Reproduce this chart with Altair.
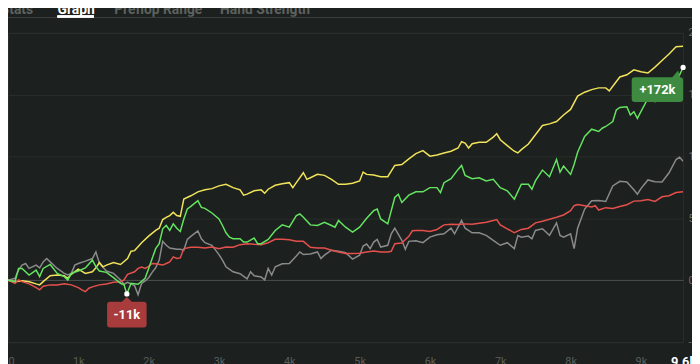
import altair as alt
import pandas as pd

# x: hands played (thousands), y: net won (thousands)
YELLOW_X = [0, 0.1, 0.2, 0.3, 0.4, 0.45, 0.5, 0.6, 0.7, 0.8, 0.85, 0.9, 1.0, 1.1, 1.2, 1.25, 1.3, 1.35, 1.4, 1.5, 1.6, 1.7, 1.75, 1.8, 1.9, 2.0, 2.1, 2.15, 2.2, 2.25, 2.3, 2.35, 2.4, 2.45, 2.5, 2.6, 2.7, 2.8, 2.9, 3.0, 3.1, 3.2, 3.3, 3.35, 3.4, 3.5, 3.6, 3.65, 3.7, 3.8, 3.9, 4.0, 4.05, 4.1, 4.2, 4.25, 4.3, 4.4, 4.5, 4.6, 4.7, 4.8, 4.9, 5.0, 5.05, 5.1, 5.2, 5.3, 5.4, 5.5, 5.6, 5.7, 5.8, 5.9, 6.0, 6.1, 6.2, 6.3, 6.4, 6.45, 6.5, 6.55, 6.6, 6.7, 6.8, 6.9, 6.95, 7.0, 7.1, 7.2, 7.25, 7.3, 7.4, 7.5, 7.6, 7.7, 7.8, 7.9, 8.0, 8.1, 8.2, 8.3, 8.4, 8.5, 8.55, 8.6, 8.7, 8.8, 8.9, 9.0, 9.1, 9.2, 9.3, 9.4, 9.5, 9.6]
YELLOW_Y = [0, -1.1, -0.3, -1.1, -2.9, -3.7, -1.1, 3.7, 4.3, 3.7, 1.6, 4.8, 9.1, 5.6, 6.9, 10.1, 14.4, 10.9, 12.3, 14.4, 12.8, 17.6, 23.5, 24, 30.4, 35.7, 40.3, 42.1, 49.1, 50.9, 52.3, 54.9, 52.3, 51.7, 65.6, 68.3, 71.5, 73.1, 74.1, 76.3, 77.6, 74.9, 73.1, 68.8, 69.6, 72.3, 73.1, 70.4, 73.6, 76.8, 78.1, 78.9, 74.9, 78.9, 86.9, 81.6, 82.9, 85.6, 84.8, 81.6, 77.6, 77.6, 78.4, 80.3, 87.5, 85.6, 85.1, 83.7, 83.7, 92.8, 93.6, 98.1, 102.4, 104.8, 100.3, 101.3, 102.9, 104.3, 106.9, 112, 110.9, 106.9, 110.4, 111.5, 111.5, 115.7, 118.4, 113.6, 108.8, 104.3, 102.9, 105.6, 110.1, 117.6, 125.1, 126.4, 128.3, 133.6, 138.1, 148.8, 152, 154.1, 155.5, 155.5, 153.1, 156.8, 164.3, 166.1, 170.1, 168.5, 167.5, 172.3, 177.6, 182.9, 188.8, 189.1]

GREEN_X = [0, 0.1, 0.15, 0.2, 0.3, 0.4, 0.45, 0.5, 0.6, 0.7, 0.8, 0.85, 0.9, 1.0, 1.1, 1.2, 1.25, 1.3, 1.4, 1.5, 1.6, 1.65, 1.69, 1.75, 1.85, 1.95, 2.0, 2.05, 2.1, 2.15, 2.2, 2.25, 2.3, 2.35, 2.4, 2.45, 2.5, 2.55, 2.6, 2.7, 2.75, 2.8, 2.9, 3.0, 3.05, 3.1, 3.15, 3.2, 3.3, 3.35, 3.4, 3.5, 3.55, 3.6, 3.7, 3.8, 3.9, 4.0, 4.1, 4.15, 4.2, 4.3, 4.4, 4.5, 4.6, 4.65, 4.7, 4.8, 4.9, 5.0, 5.1, 5.2, 5.25, 5.3, 5.4, 5.5, 5.55, 5.6, 5.7, 5.8, 5.9, 6.0, 6.1, 6.15, 6.2, 6.3, 6.4, 6.45, 6.5, 6.6, 6.7, 6.8, 6.9, 7.0, 7.1, 7.2, 7.3, 7.4, 7.45, 7.5, 7.6, 7.7, 7.8, 7.85, 7.9, 8.0, 8.05, 8.1, 8.2, 8.3, 8.4, 8.45, 8.5, 8.6, 8.65, 8.7, 8.8, 8.85, 8.9, 8.95, 9.0, 9.1, 9.2, 9.3, 9.4, 9.5, 9.55, 9.6]
GREEN_Y = [0, -1, 9.6, 9.6, 4.3, 8.3, 3, 9.6, 12.8, 5.6, 3, 0.3, 5.6, 7.5, 10, 16.3, 11, 7.5, 6.4, 2.1, -2.4, -3.7, -11, -2.4, -3.2, 1.6, 9.6, 17.6, 25.6, 29.6, 41.6, 44.3, 40.3, 45.6, 42.1, 39.5, 49.6, 57.6, 59.7, 64.3, 58.9, 58.1, 54.4, 49.6, 44.3, 38.4, 34.9, 33.6, 33.6, 30.9, 30.9, 34.1, 29.6, 29.6, 33.1, 40.3, 44.8, 42.9, 52.3, 53.6, 50.9, 44.8, 44.3, 46.9, 44.3, 42.9, 48.3, 42.9, 38.9, 42.9, 50.1, 56.3, 57.6, 49.6, 45.6, 66.9, 69.6, 62.9, 68.8, 71.5, 71.5, 74.9, 74.9, 70.9, 78.9, 82.1, 89.6, 92.8, 84.8, 82.1, 82.9, 80.3, 81.6, 74.9, 72.3, 65.6, 77.6, 77.6, 73.6, 80.3, 89.1, 83.7, 97.6, 87.5, 92.3, 85.6, 93.6, 103.5, 116.3, 122.1, 120.3, 122.9, 124.3, 128.3, 137.6, 139.7, 140.3, 133.6, 136.3, 130.9, 136.3, 147, 144.3, 148, 155, 160, 166, 172]

GRAY_X = [0, 0.1, 0.15, 0.2, 0.25, 0.3, 0.4, 0.45, 0.5, 0.55, 0.6, 0.7, 0.8, 0.85, 0.9, 0.95, 1.0, 1.1, 1.2, 1.25, 1.3, 1.4, 1.5, 1.6, 1.65, 1.7, 1.8, 1.85, 1.9, 1.95, 2.0, 2.05, 2.1, 2.15, 2.2, 2.25, 2.3, 2.4, 2.45, 2.5, 2.55, 2.6, 2.7, 2.75, 2.8, 2.9, 3.0, 3.05, 3.1, 3.2, 3.3, 3.4, 3.45, 3.5, 3.6, 3.65, 3.7, 3.75, 3.8, 3.9, 4.0, 4.1, 4.15, 4.2, 4.3, 4.4, 4.45, 4.5, 4.6, 4.7, 4.8, 4.9, 5.0, 5.05, 5.1, 5.15, 5.2, 5.25, 5.3, 5.4, 5.45, 5.5, 5.6, 5.65, 5.7, 5.8, 5.9, 6.0, 6.1, 6.2, 6.3, 6.35, 6.4, 6.45, 6.5, 6.6, 6.7, 6.8, 6.9, 7.0, 7.1, 7.2, 7.25, 7.3, 7.4, 7.45, 7.5, 7.6, 7.7, 7.8, 7.85, 7.9, 8.0, 8.05, 8.1, 8.2, 8.3, 8.4, 8.5, 8.6, 8.7, 8.8, 8.9, 8.95, 9.0, 9.1, 9.2, 9.3, 9.4, 9.5, 9.55, 9.6]
GRAY_Y = [0, 1.6, 8.3, 12.3, 13.6, 9.6, 12.3, 10.1, 14.9, 17.6, 14.9, 9.6, 5.6, 4.3, 5.6, 12.3, 13.6, 15.5, 17.6, 22.9, 13.6, 7.5, 5.6, 0.3, -3.2, -1.6, -4.3, -11.7, -2.4, -0.5, 2.1, 6.4, 10.1, 16.3, 31.5, 28.3, 26.1, 25.1, 25.1, 24.3, 33.1, 35.5, 40, 33.6, 30.4, 28.3, 20.8, 16.3, 10.9, 6.9, 5.3, 1.1, 6.9, 3.7, 2.7, 0.3, 9.6, 4.3, 10.9, 13.3, 13.6, 19.7, 22.9, 20.8, 21.3, 22.9, 17.6, 20.3, 24.3, 23.5, 22.4, 17.1, 20.3, 27.7, 29.3, 25.6, 30.9, 33.1, 26.9, 28.3, 37.6, 42.1, 32.3, 25.1, 31.5, 32, 30.4, 34.9, 36.8, 37.6, 42.1, 37.6, 42.9, 48.3, 42.1, 38.4, 38.4, 36.3, 32.3, 28.3, 30.4, 25.6, 36.2, 34.9, 35.7, 33.6, 40.3, 41.6, 36.3, 46.4, 36.3, 34.9, 37.6, 25.6, 42.1, 57.6, 64.3, 64.5, 63.7, 76.3, 80, 79.5, 73.1, 69.6, 74.1, 81.1, 79.7, 79.5, 86.9, 97.6, 99.5, 96.3]

RED_X = [0, 0.1, 0.15, 0.2, 0.3, 0.4, 0.45, 0.5, 0.6, 0.7, 0.8, 0.9, 1.0, 1.05, 1.1, 1.15, 1.2, 1.3, 1.4, 1.5, 1.6, 1.65, 1.7, 1.8, 1.85, 1.9, 1.95, 2.0, 2.05, 2.1, 2.2, 2.25, 2.3, 2.35, 2.4, 2.45, 2.5, 2.6, 2.7, 2.8, 2.9, 3.0, 3.1, 3.2, 3.3, 3.4, 3.5, 3.6, 3.7, 3.8, 3.9, 4.0, 4.1, 4.2, 4.3, 4.4, 4.5, 4.6, 4.7, 4.8, 4.9, 5.0, 5.1, 5.2, 5.3, 5.4, 5.45, 5.5, 5.6, 5.7, 5.75, 5.8, 5.9, 6.0, 6.1, 6.2, 6.3, 6.4, 6.5, 6.6, 6.7, 6.8, 6.9, 6.95, 7.0, 7.1, 7.2, 7.3, 7.4, 7.5, 7.6, 7.7, 7.8, 7.9, 8.0, 8.05, 8.1, 8.2, 8.3, 8.35, 8.4, 8.5, 8.6, 8.7, 8.8, 8.9, 9.0, 9.1, 9.2, 9.3, 9.4, 9.5, 9.6]
RED_Y = [0, -2.4, 0.3, -1.1, -2.9, -5.9, -7.7, -4.8, -3.7, -3.7, -2.7, -3.7, -5.9, -7.7, -9.1, -6.4, -5.3, -3.7, -2.9, -1.6, -1.1, 0.3, 4.8, 6.9, 9.6, 10.7, 9.6, 11.2, 13.6, 13.3, 12.3, 13.6, 14.9, 18.9, 17.6, 18.1, 25.6, 26.7, 26.7, 26.1, 26.9, 25.6, 26.9, 26.7, 28.8, 29.6, 29.1, 28.8, 30.4, 33.1, 33.1, 32.8, 31.5, 31.5, 26.7, 26.1, 26.1, 24.3, 22.9, 21.6, 21.6, 21.9, 22.9, 23.7, 22.9, 22.9, 23.5, 29.6, 30.1, 35.5, 40, 40.3, 40.3, 39.5, 41.1, 44.8, 45.3, 45.1, 45.6, 45.3, 46.1, 46.9, 48.3, 49.1, 44.8, 41.6, 38.4, 41.1, 42.1, 46.4, 47.7, 49.3, 50.9, 52.8, 56.3, 60.3, 61.3, 60.3, 59.2, 60.3, 56.8, 58.7, 58.1, 59.7, 61.1, 64, 64.3, 65.3, 63.7, 67.5, 68.3, 70.9, 71.5]

SERIES = ["Gray", "Yellow", "Red", "Green"]
COLORS = ["#8a8a8a", "#f0e35a", "#e5504d", "#63e360"]
X_TICKS = [0, 1, 2, 3, 4, 5, 6, 7, 8, 9, 9.6]
Y_TICKS = [-50, 0, 50, 100, 150, 200]
TABS = ["Stats", "Graph", "Preflop Range", "Hand Strength"]

data = {
    "Gray": (GRAY_X, GRAY_Y),
    "Yellow": (YELLOW_X, YELLOW_Y),
    "Red": (RED_X, RED_Y),
    "Green": (GREEN_X, GREEN_Y),
}

FONT = "Roboto"

x_enc = alt.X(
    "hands:Q",
    scale=alt.Scale(domain=[0, 9.6], nice=False, zero=False),
    axis=alt.Axis(
        values=X_TICKS, title=None, grid=False, domain=False, ticks=False,
        labelPadding=14, labelFont=FONT,
        labelExpr="datum.value == 0 ? '0' : datum.value + 'k'",
        labelColor={"condition": {"test": "datum.value == 9.6", "value": "#ffffff"}, "value": "#5a5f5c"},
        labelFontSize={"condition": {"test": "datum.value == 9.6", "value": 13}, "value": 11},
        labelFontWeight={"condition": {"test": "datum.value == 9.6", "value": "bold"}, "value": "normal"},
        labelAlign={"condition": {"test": "datum.value == 0", "value": "left"}, "value": "center"},
        labelOverlap=False,
    ),
)
y_enc = alt.Y(
    "net:Q",
    scale=alt.Scale(domain=[-50, 200], nice=False, zero=False),
    axis=alt.Axis(
        values=Y_TICKS, title=None, orient="right", domain=False, ticks=False,
        labelPadding=5, labelFont=FONT, labelFontSize=11, labelColor="#6a6f6c",
        labelExpr="datum.value == 0 ? '0' : datum.value + 'k'",
        gridColor={"condition": {"test": "datum.value == 0", "value": "#4c514e"}, "value": "#2a2f2c"},
        gridWidth=1,
    ),
)

layers = []
for name, color in zip(SERIES, COLORS):
    xs, ys = data[name]
    df = pd.DataFrame({"hands": xs, "net": ys, "series": name})
    layers.append(
        alt.Chart(df).mark_line(color=color, strokeWidth=1.5, clip=True).encode(
            x=x_enc, y=y_enc, order="hands:Q"
        )
    )

# annotations on the green (hero) series: final result and lowest point
g_end = len(GREEN_X) - 1
g_min = GREEN_Y.index(min(GREEN_Y))
end_df = pd.DataFrame({"hands": [GREEN_X[g_end]], "net": [GREEN_Y[g_end]],
                       "label": [f"+{round(GREEN_Y[g_end])}k"]})
min_df = pd.DataFrame({"hands": [GREEN_X[g_min]], "net": [GREEN_Y[g_min]],
                       "label": [f"{round(GREEN_Y[g_min])}k"]})

END_BOX = ("M -49,10 L -11,10 L -5,3 L -3,10 Q 0,10 0,13 L 0,32 Q 0,35 -3,35 "
           "L -49,35 Q -52,35 -52,32 L -52,13 Q -52,10 -49,10 Z")
MIN_BOX = ("M -17,8 L -5,8 L 0,3 L 5,8 L 17,8 Q 20,8 20,11 L 20,31 Q 20,34 17,34 "
           "L -17,34 Q -20,34 -20,31 L -20,11 Q -20,8 -17,8 Z")

end_box = alt.Chart(end_df).mark_point(shape=END_BOX, size=4, filled=True, fill="#3d8a40",
                                       opacity=1, strokeWidth=0).encode(x=x_enc, y=y_enc)
end_txt = alt.Chart(end_df).mark_text(dx=-26, dy=23, color="white", font=FONT, fontSize=13,
                                      fontWeight="bold").encode(x=x_enc, y=y_enc, text="label:N")
min_box = alt.Chart(min_df).mark_point(shape=MIN_BOX, size=4, filled=True, fill="#a83b3b",
                                       opacity=1, strokeWidth=0).encode(x=x_enc, y=y_enc)
min_txt = alt.Chart(min_df).mark_text(dx=0, dy=21, color="white", font=FONT, fontSize=13,
                                      fontWeight="bold").encode(x=x_enc, y=y_enc, text="label:N")
dots = alt.Chart(pd.concat([end_df, min_df])).mark_circle(size=28, color="white", opacity=1).encode(
    x=x_enc, y=y_enc)

# tab header above the plot
tabs_df = pd.DataFrame({"tab": TABS, "px": [9, 69, 152, 260],
                        "col": ["#5d625f", "#ffffff", "#5d625f", "#5d625f"]})
tabs = alt.Chart(tabs_df).mark_text(font=FONT, fontSize=14, fontWeight="bold",
                                    baseline="alphabetic").encode(
    x=alt.X("px:Q", scale=None), y=alt.value(-19), text="tab:N",
    color=alt.Color("col:N", scale=None))
sep = alt.Chart(tabs_df).mark_rule(color="#3a3f3c", strokeWidth=1).encode(
    x=alt.value(-8), x2=alt.value(700), y=alt.value(-15.5))
underline = alt.Chart(tabs_df).mark_rule(color="#ffffff", strokeWidth=2).encode(
    x=alt.value(50), x2=alt.value(87), y=alt.value(-16.5))

chart = alt.layer(*layers, dots, end_box, end_txt, min_box, min_txt, tabs, sep, underline).properties(
    width=683, height=313,
    autosize=alt.AutoSizeParams(type="none"),
    padding={"left": 0, "top": 23, "right": 9, "bottom": 22},
    background="#1c201e",
).configure_view(stroke="#2a2f2c", strokeWidth=1, fill="#1c201e").configure_axis(
    labelFont=FONT
)

chart.save("out.html", embed_options={"renderer": "svg", "actions": False})
